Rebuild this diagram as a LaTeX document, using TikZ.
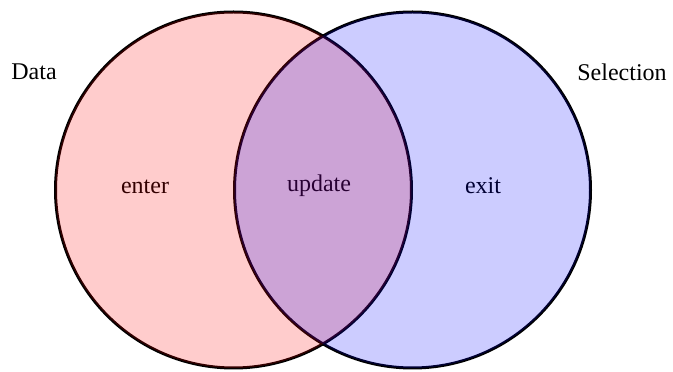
\documentclass[tikz,border=0pt]{standalone}
\usepackage{fontspec}
\setmainfont{Liberation Serif}
\begin{document}
\begin{tikzpicture}[x=1pt, y=1pt, font=\fontsize{24}{28}\selectfont]
        \useasboundingbox (0,0) rectangle (673,372);

        \coordinate (dataC) at (233.5,182);
        \coordinate (selC) at (412.5,182);

        \draw[line width=3pt] (dataC) circle (178);
        \draw[line width=3pt] (selC) circle (178);

        \node (data) at (34, 300) {Data};
        \node (selection) at (622, 300) {Selection};
        \node (enter) at (145, 185) {enter};
        \node (update) at (319, 186) {update};
        \node (exit) at (483, 186) {exit};

        \fill[red, opacity=0.2] (dataC) circle (178);
        \fill[blue, opacity=0.2] (selC) circle (178);

    \end{tikzpicture}
\end{document}
